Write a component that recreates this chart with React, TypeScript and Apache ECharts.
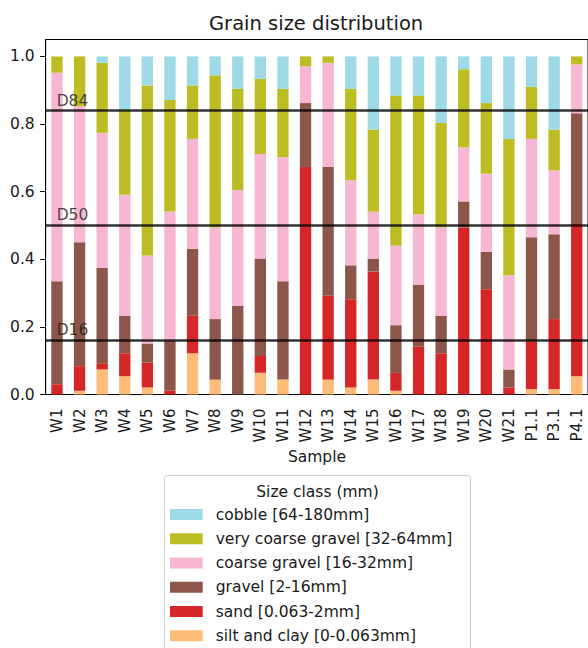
import React, { useEffect, useRef } from "react";
import * as echarts from "echarts";

const categories = [
  "W1", "W2", "W3", "W4", "W5", "W6", "W7", "W8", "W9", "W10", "W11", "W12",
  "W13", "W14", "W15", "W16", "W17", "W18", "W19", "W20", "W21", "P1.1", "P3.1", "P4.1",
];

const siltClay = [0, 0.011, 0.074, 0.054, 0.021, 0, 0.122, 0.044, 0, 0.064, 0.044, 0, 0.044, 0.021, 0.044, 0.011, 0, 0, 0, 0, 0, 0.016, 0.016, 0.054];
const sand = [0.03, 0.073, 0.018, 0.068, 0.073, 0.011, 0.111, 0, 0, 0.05, 0, 0.673, 0.248, 0.261, 0.32, 0.053, 0.141, 0.122, 0.494, 0.311, 0.021, 0.141, 0.207, 0.45];
const gravel = [0.305, 0.366, 0.282, 0.111, 0.057, 0.149, 0.198, 0.179, 0.262, 0.288, 0.291, 0.189, 0.381, 0.1, 0.038, 0.141, 0.184, 0.111, 0.077, 0.111, 0.053, 0.308, 0.251, 0.328];
const coarseGravel = [0.617, 0.403, 0.4, 0.358, 0.26, 0.381, 0.325, 0.271, 0.343, 0.309, 0.367, 0.109, 0.308, 0.252, 0.139, 0.236, 0.208, 0.261, 0.16, 0.231, 0.279, 0.291, 0.189, 0.144];
const veryCoarseGravel = [0.048, 0.147, 0.207, 0.249, 0.503, 0.33, 0.158, 0.45, 0.299, 0.223, 0.202, 0.029, 0.019, 0.27, 0.243, 0.443, 0.351, 0.309, 0.231, 0.209, 0.403, 0.154, 0.121, 0.024];
const cobble = [0, 0, 0.019, 0.16, 0.086, 0.129, 0.086, 0.056, 0.096, 0.066, 0.096, 0, 0, 0.096, 0.216, 0.116, 0.116, 0.197, 0.038, 0.138, 0.244, 0.09, 0.216, 0];

const seriesNames = [
  "silt and clay [0-0.063mm]",
  "sand [0.063-2mm]",
  "gravel [2-16mm]",
  "coarse gravel [16-32mm]",
  "very coarse gravel [32-64mm]",
  "cobble [64-180mm]",
];
const seriesColors = ["#ffbb78", "#d62728", "#8c564b", "#f7b6d2", "#bcbd22", "#9edae5"];

const thresholdValues = [0.84, 0.5, 0.16];
const thresholdLabels = ["D84", "D50", "D16"];

const yTicks = [0, 0.2, 0.4, 0.6, 0.8, 1.0];

const FONT = "DejaVu Sans";
const TEXT = "#1a1a1a";

export default function App() {
  const ref = useRef<HTMLDivElement>(null);

  useEffect(() => {
    if (!ref.current) return;
    const chart = echarts.init(ref.current, null, { renderer: "svg" });
    const values = [siltClay, sand, gravel, coarseGravel, veryCoarseGravel, cobble];

    const series: any[] = values.map((data, i) => ({
      name: seriesNames[i],
      type: "bar",
      stack: "total",
      data,
      barWidth: 11.33,
      itemStyle: { color: seriesColors[i] },
      emphasis: { disabled: true },
    }));

    series[series.length - 1].markLine = {
      symbol: "none",
      silent: true,
      animation: false,
      lineStyle: { color: "#000", width: 2.5, type: "solid", opacity: 0.8 },
      label: {
        show: true,
        position: "insideStartTop",
        distance: [11, 2],
        color: TEXT,
        fontFamily: FONT,
        fontSize: 15.5,
        formatter: (p: any) => thresholdLabels[p.dataIndex],
      },
      data: thresholdValues.map((v) => ({ yAxis: v })),
    };

    chart.setOption({
      animation: false,
      title: {
        text: "Grain size distribution",
        left: 209,
        top: 13,
        padding: 0,
        textStyle: { fontFamily: FONT, fontSize: 19.5, fontWeight: "normal", color: TEXT },
      },
      grid: {
        left: 45.67,
        top: 39.5,
        width: 544,
        height: 355,
        show: true,
        borderColor: "#000",
        borderWidth: 1,
        backgroundColor: "transparent",
      },
      xAxis: {
        type: "category",
        data: categories,
        axisLine: { lineStyle: { color: "#000", width: 1 } },
        axisTick: { alignWithLabel: true, length: 5.5, lineStyle: { color: "#000" } },
        axisLabel: {
          rotate: 90,
          interval: 0,
          margin: 14,
          fontFamily: FONT,
          fontSize: 15,
          color: TEXT,
        },
      },
      yAxis: {
        type: "value",
        min: 0,
        max: 1.05,
        interval: 0.2,
        splitLine: { show: false },
        axisLine: { show: true, lineStyle: { color: "#000", width: 1 } },
        axisTick: { show: true, length: 5.5, lineStyle: { color: "#000" } },
        axisLabel: {
          margin: 11,
          showMaxLabel: false,
          fontFamily: FONT,
          fontSize: 15.5,
          color: TEXT,
          formatter: (v: number) => (yTicks.some((t) => Math.abs(t - v) < 1e-9) ? v.toFixed(1) : ""),
        },
      },
      legend: {
        orient: "vertical",
        left: 170,
        top: 506.5,
        padding: 0,
        itemWidth: 32.7,
        itemHeight: 11,
        itemGap: 8.27,
        icon: "rect",
        selectedMode: false,
        data: [...seriesNames].reverse(),
        textStyle: {
          fontFamily: FONT,
          fontSize: 15.5,
          lineHeight: 16,
          color: TEXT,
          padding: [0, 0, 0, 8],
        },
      },
      graphic: [
        {
          type: "rect",
          z: -1,
          silent: true,
          shape: { x: 164.5, y: 475.5, width: 306, height: 200, r: 3 },
          style: { fill: "#fff", stroke: "#cccccc", lineWidth: 1 },
        },
        {
          type: "text",
          silent: true,
          x: 317.5,
          y: 491.7,
          style: {
            text: "Size class (mm)",
            fontFamily: FONT,
            fontSize: 15.5,
            fill: TEXT,
            textAlign: "center",
            textVerticalAlign: "middle",
          },
        },
        {
          type: "text",
          silent: true,
          x: 317,
          y: 456.5,
          style: {
            text: "Sample",
            fontFamily: FONT,
            fontSize: 15.5,
            fill: TEXT,
            textAlign: "center",
            textVerticalAlign: "middle",
          },
        },
      ],
      series,
    });

    return () => {
      chart.dispose();
    };
  }, []);

  return (
    <div
      ref={ref}
      style={{ position: "fixed", left: 0, top: 0, width: 588, height: 648, background: "#fff" }}
    />
  );
}
